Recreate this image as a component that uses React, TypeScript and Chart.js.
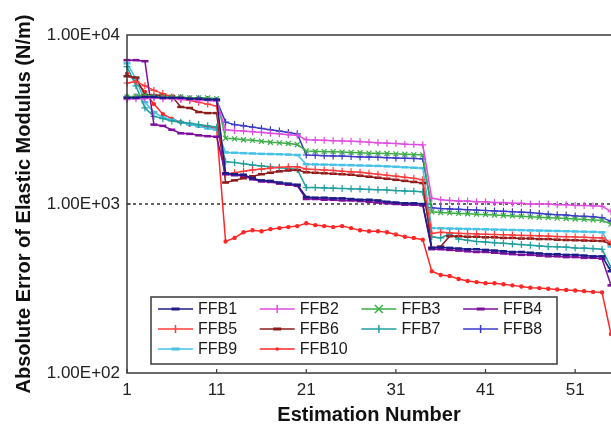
import { useEffect, useRef } from 'react';
import { Chart, registerables } from 'chart.js';
Chart.register(...registerables);

const estimationNumbers = ['1','2','3','4','5','6','7','8','9','10','11','12','13','14','15','16','17','18','19','20','21','22','23','24','25','26','27','28','29','30','31','32','33','34','35','36','37','38','39','40','41','42','43','44','45','46','47','48','49','50','51','52','53','54','55'];
const xTickLabels = ['1', '11', '21', '31', '41', '51'];
const yTickValues = [100, 1000, 10000];
const yTickLabels = ['1.00E+02', '1.00E+03', '1.00E+04'];

const seriesNames = ['FFB1', 'FFB2', 'FFB3', 'FFB4', 'FFB5', 'FFB6', 'FFB7', 'FFB8', 'FFB9', 'FFB10'];

const ffb1 = [4250,4250,4300,4300,4250,4250,4250,4200,4200,4150,4150,
  1520,1500,1490,1420,1380,1370,1340,1320,1300,
  1100,1090,1090,1080,1080,1070,1060,1060,1050,1030,1020,1010,1010,1000,
  550,
  555,550,545,540,540,535,530,525,520,520,515,510,505,505,500,500,495,490,490,
  400];
const ffb2 = [4150,4200,4200,4250,4200,4200,4150,4150,4100,4100,4050,
  2750,2720,2700,2680,2650,2620,2600,2570,2550,
  2400,2390,2380,2370,2360,2350,2340,2320,2300,2290,2280,2260,2250,2240,
  1080,
  1060,1050,1040,1040,1030,1030,1020,1020,1010,1010,1000,1000,1000,990,990,980,980,975,970,
  900];
const ffb3 = [4300,4350,4400,4350,4300,4300,4300,4250,4250,4250,4200,
  2450,2430,2400,2380,2350,2320,2300,2280,2250,
  2060,2050,2040,2040,2030,2020,2010,2000,2000,1990,1980,1970,1960,1950,
  900,
  890,885,880,875,870,865,860,855,850,845,840,835,830,825,820,815,810,805,800,
  760];
const ffb4 = [7100,7100,7000,2950,2900,2750,2620,2600,2550,2520,2500,
  1500,1480,1470,1400,1360,1350,1320,1300,1280,
  1070,1070,1060,1060,1050,1050,1040,1030,1020,1010,1000,990,990,980,
  540,
  540,535,530,525,520,520,515,510,505,500,500,495,490,490,485,485,480,480,475,
  330];
const ffb5 = [5200,5300,5000,4700,4500,4300,4200,4100,4000,3900,3800,
  1500,1530,1560,1590,1610,1630,1650,1660,1660,
  1610,1600,1590,1580,1560,1550,1540,1520,1500,1480,1460,1440,1420,1390,
  670,
  680,675,670,668,665,662,660,658,655,652,650,648,645,642,640,638,635,632,630,
  590];
const ffb6 = [5700,5600,4400,4400,4400,4350,3750,3700,3500,3450,3450,
  1340,1380,1420,1460,1500,1530,1560,1580,1590,
  1540,1530,1520,1510,1500,1490,1470,1450,1430,1410,1390,1370,1350,1330,
  550,
  560,645,645,640,640,635,635,630,630,625,625,620,620,615,612,610,608,606,604,
  580];
const ffb7 = [6500,5000,3700,3300,3200,3100,3050,3000,2950,2900,2850,
  1780,1760,1730,1700,1680,1660,1640,1620,1600,
  1250,1250,1245,1240,1235,1230,1225,1220,1215,1210,1200,1195,1190,1180,
  640,
  630,665,620,610,600,595,590,585,580,575,570,565,560,558,555,550,548,545,540,
  420];
const ffb8 = [4300,4300,4350,4300,4300,4250,4250,4200,4200,4150,4100,
  3050,2950,2900,2850,2800,2750,2700,2650,2600,
  1950,1940,1930,1925,1920,1910,1900,1895,1890,1880,1870,1865,1860,1850,
  950,
  940,935,930,925,920,915,910,905,900,895,890,880,870,865,860,850,845,840,830,
  790];
const ffb9 = [6800,5500,4000,3500,3250,3150,3050,2950,2880,2800,2750,
  2020,2010,2000,1990,1980,1975,1970,1960,1950,
  1720,1715,1710,1705,1700,1695,1690,1685,1680,1670,1660,1650,1640,1630,
  720,
  718,716,714,712,710,708,706,704,702,700,698,696,694,692,690,688,686,684,680,
  560];
const ffb10 = [5900,5300,4600,3900,3400,3200,3050,2950,2900,2850,2800,
  600,630,680,700,690,710,720,730,740,
  770,750,740,730,740,720,700,690,690,680,660,640,630,615,
  400,
  380,375,360,350,345,340,340,335,330,325,320,318,315,312,310,308,305,302,300,
  170];

const seriesValues = [ffb1, ffb2, ffb3, ffb4, ffb5, ffb6, ffb7, ffb8, ffb9, ffb10];
const seriesColors = ['#1c1c8a', '#e04ce0', '#3cae46', '#7d0f9c', '#ff3b3b', '#8c1c1c', '#1f9e9e', '#3a3ac4', '#46c2e6', '#ff2626'];
const seriesMarkers = ['line', 'cross', 'crossRot', 'line', 'cross', 'line', 'cross', 'cross', 'line', 'circle'];

const FONT = '"Liberation Sans", Arial, sans-serif';

function drawMarker(ctx: CanvasRenderingContext2D, style: string, x: number, y: number, r: number, color: string) {
  ctx.save();
  ctx.strokeStyle = color;
  ctx.fillStyle = color;
  ctx.lineWidth = 1.5;
  ctx.beginPath();
  if (style === 'line') {
    ctx.lineWidth = 3;
    ctx.moveTo(x - r, y);
    ctx.lineTo(x + r, y);
    ctx.stroke();
  } else if (style === 'cross') {
    ctx.moveTo(x, y - r);
    ctx.lineTo(x, y + r);
    ctx.stroke();
  } else if (style === 'crossRot') {
    ctx.moveTo(x - r, y - r);
    ctx.lineTo(x + r, y + r);
    ctx.moveTo(x + r, y - r);
    ctx.lineTo(x - r, y + r);
    ctx.stroke();
  } else {
    ctx.arc(x, y, 1.8, 0, Math.PI * 2);
    ctx.fill();
  }
  ctx.restore();
}

const framePlugin = {
  id: 'frameAndLegend',
  beforeDatasetsDraw(chart: any) {
    const { ctx, chartArea, scales } = chart;
    const y1000 = scales.y.getPixelForValue(1000);
    ctx.save();
    ctx.strokeStyle = '#000';
    ctx.lineWidth = 1.2;
    ctx.setLineDash([3, 3]);
    ctx.beginPath();
    ctx.moveTo(chartArea.left, y1000);
    ctx.lineTo(chartArea.right, y1000);
    ctx.stroke();
    ctx.restore();
  },
  afterDraw(chart: any) {
    const { ctx, chartArea, scales } = chart;
    ctx.save();
    ctx.strokeStyle = '#3a3a3a';
    ctx.lineWidth = 1.5;
    ctx.strokeRect(chartArea.left, chartArea.top, chartArea.right - chartArea.left + 2, chartArea.bottom - chartArea.top);
    // tick marks
    ctx.lineWidth = 1.2;
    ctx.beginPath();
    scales.x.ticks.forEach((_t: any, i: number) => {
      const px = scales.x.getPixelForTick(i);
      ctx.moveTo(px, chartArea.bottom);
      ctx.lineTo(px, chartArea.bottom - 4);
    });
    const y1000 = scales.y.getPixelForValue(1000);
    ctx.moveTo(chartArea.left, y1000);
    ctx.lineTo(chartArea.left + 4, y1000);
    ctx.stroke();

    // legend box
    const bx = 151, by = 297, bw = 406, bh = 67;
    ctx.fillStyle = '#fff';
    ctx.fillRect(bx, by, bw, bh);
    ctx.strokeStyle = '#3a3a3a';
    ctx.lineWidth = 1.5;
    ctx.strokeRect(bx, by, bw, bh);
    ctx.font = '16px ' + FONT;
    ctx.textBaseline = 'middle';
    ctx.textAlign = 'left';
    chart.data.datasets.forEach((ds: any, i: number) => {
      const col = i % 4;
      const row = Math.floor(i / 4);
      const x0 = bx + 7 + col * 101.7;
      const y0 = by + 12 + row * 20;
      ctx.strokeStyle = ds.borderColor;
      ctx.lineWidth = 1.5;
      ctx.beginPath();
      ctx.moveTo(x0, y0);
      ctx.lineTo(x0 + 35, y0);
      ctx.stroke();
      drawMarker(ctx, ds.pointStyle, x0 + 17.5, y0, 4, ds.borderColor);
      ctx.fillStyle = '#1a1a1a';
      ctx.fillText(ds.label, x0 + 40, y0 + 1);
    });
    ctx.restore();
  },
};

export default function App() {
  const canvasRef = useRef<HTMLCanvasElement | null>(null);
  useEffect(() => {
    document.body.style.margin = '0';
    const canvas = canvasRef.current;
    if (!canvas) return;
    const chart = new Chart(canvas, {
      type: 'line',
      data: {
        labels: estimationNumbers,
        datasets: seriesNames.map((name, i) => ({
          label: name,
          data: seriesValues[i],
          borderColor: seriesColors[i],
          backgroundColor: seriesColors[i],
          borderWidth: 1.5,
          pointStyle: seriesMarkers[i] as any,
          pointRadius: seriesMarkers[i] === 'circle' ? 1.6 : 3.5,
          pointBorderWidth: seriesMarkers[i] === 'line' ? 2.5 : 1.2,
          tension: 0,
          fill: false,
          clip: 8,
        })),
      },
      options: {
        animation: false,
        responsive: false,
        layout: { autoPadding: false, padding: { top: 35, right: 0, left: 0, bottom: 0 } },
        plugins: { legend: { display: false }, tooltip: { enabled: false } },
        scales: {
          x: {
            type: 'category',
            offset: false,
            grid: { display: false, drawTicks: false },
            border: { display: false },
            afterFit: (s: any) => { s.height = 53; s.paddingRight = 0; },
            afterBuildTicks: (s: any) => {
              s.ticks = s.ticks.filter((t: any) => xTickLabels.includes(estimationNumbers[t.value]));
            },
            ticks: {
              autoSkip: false,
              maxRotation: 0,
              minRotation: 0,
              padding: 7,
              color: '#222',
              font: { family: FONT, size: 17 },
              callback: (v: any) => estimationNumbers[Number(v)],
            },
            title: {
              display: true,
              text: 'Estimation Number',
              color: '#111',
              font: { family: FONT, size: 20, weight: 'bold', lineHeight: 1 },
              padding: { top: 0, bottom: 1 },
            },
          },
          y: {
            type: 'logarithmic',
            min: 100,
            max: 10000,
            grid: { display: false, drawTicks: false },
            border: { display: false },
            afterFit: (s: any) => { s.width = 127; },
            afterBuildTicks: (s: any) => { s.ticks = yTickValues.map((v) => ({ value: v })); },
            ticks: {
              padding: 7,
              color: '#222',
              font: { family: FONT, size: 17 },
              callback: (v: any) => {
                const k = yTickValues.indexOf(Number(v));
                return k >= 0 ? yTickLabels[k] : '';
              },
            },
            title: {
              display: true,
              text: 'Absolute Error of Elastic Modulus (N/m)',
              color: '#111',
              font: { family: FONT, size: 20, weight: 'bold', lineHeight: 1 },
              padding: { top: 14, bottom: 0 },
            },
          },
        },
      },
      plugins: [framePlugin],
    });
    return () => chart.destroy();
  }, []);
  return (
    <div style={{ position: 'fixed', left: 0, top: 0, width: 611, height: 426, background: '#fff' }}>
      <canvas ref={canvasRef} width={611} height={426} style={{ display: 'block' }} />
    </div>
  );
}
